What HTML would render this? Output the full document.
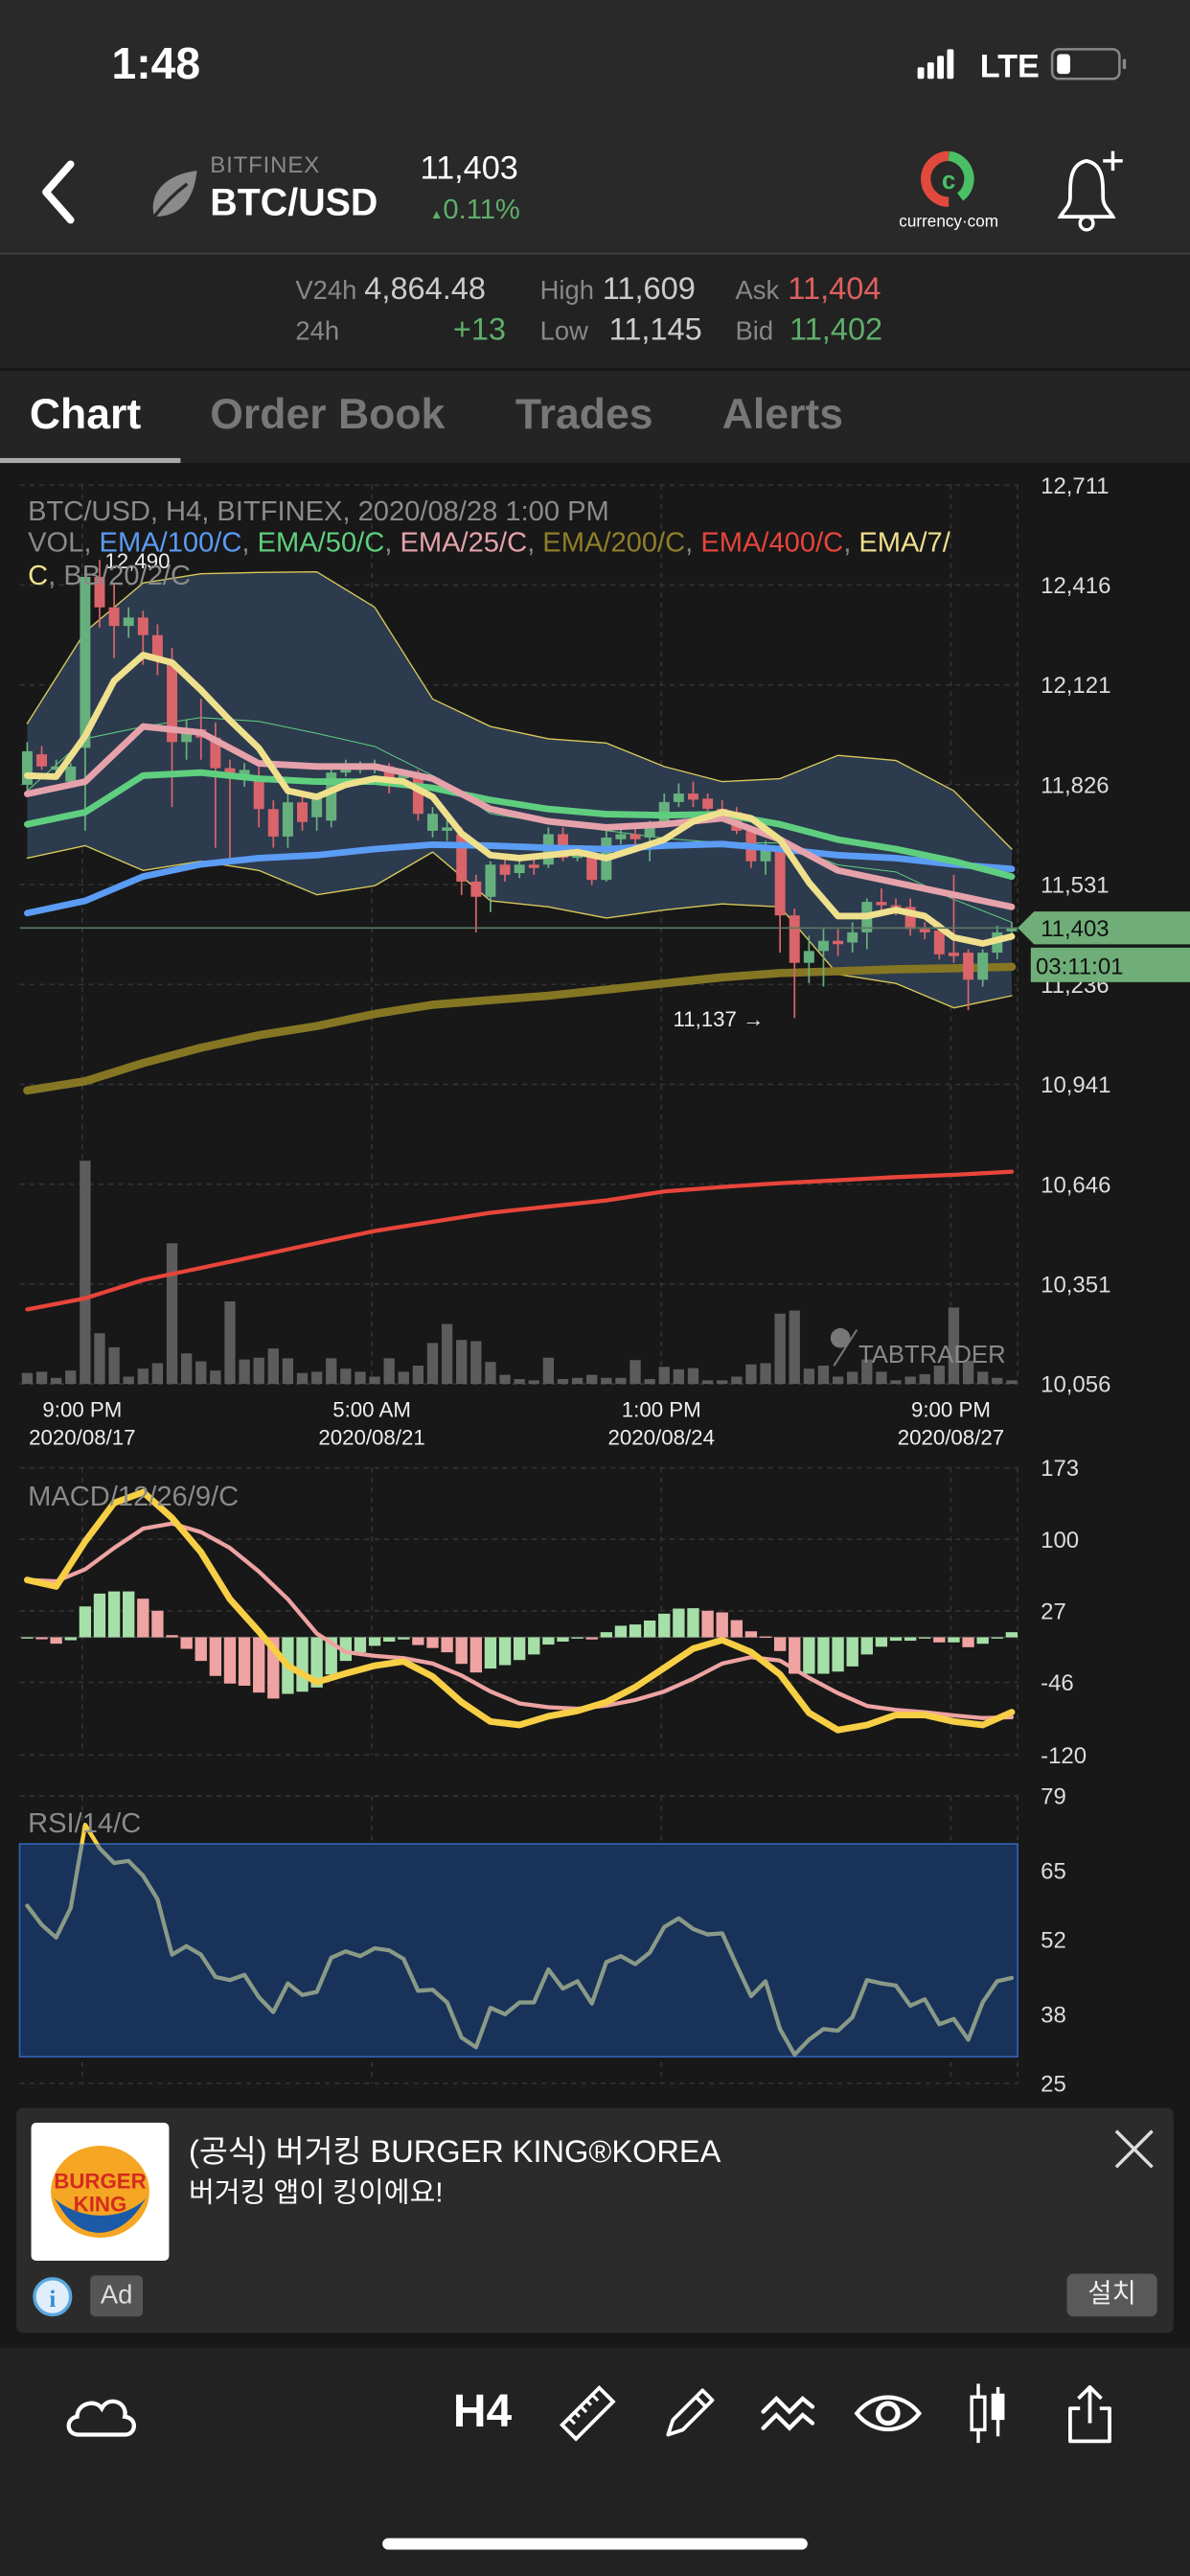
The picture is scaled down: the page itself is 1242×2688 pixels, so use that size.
<!DOCTYPE html>
<html><head><meta charset="utf-8">
<style>
html,body{margin:0;padding:0;background:#181818;width:1242px;height:2688px;overflow:hidden;}
#root{position:absolute;left:0;top:0;width:725px;height:1569px;transform:scale(1.71311);transform-origin:0 0;background:#181818;font-family:"Liberation Sans","Noto Sans CJK KR",sans-serif;color:#fff;}
.abs{position:absolute;white-space:nowrap;}
</style></head><body>
<div id="root">
 <div class="abs" style="left:0;top:0;width:725px;height:154px;background:#292929"></div>
 <div class="abs" style="left:0;top:154px;width:725px;height:1px;background:#444"></div>
 <div class="abs" style="left:0;top:155px;width:725px;height:69px;background:#222"></div>
 <div class="abs" style="left:0;top:226px;width:725px;height:56px;background:#242424"></div>

 <div class="abs" style="left:68px;top:24px;font-size:27px;font-weight:bold">1:48</div>
 <svg class="abs" style="left:555px;top:28px" width="135" height="24">
  <rect x="4" y="13" width="4" height="7" fill="#fff" rx="1"/><rect x="10" y="10" width="4" height="10" fill="#fff" rx="1"/><rect x="16" y="6" width="4" height="14" fill="#fff" rx="1"/><rect x="22" y="2" width="4" height="18" fill="#fff" rx="1"/>
  <text x="42" y="19" font-size="20" font-weight="bold" fill="#fff" font-family="Liberation Sans">LTE</text>
  <rect x="86" y="2" width="41" height="18" rx="4" fill="none" stroke="#888" stroke-width="1.5"/><rect x="89" y="5" width="8" height="12" rx="2" fill="#fff"/><rect x="129" y="8" width="2" height="6" fill="#888"/>
 </svg>

 <svg class="abs" style="left:20px;top:96px" width="30" height="42"><path d="M23 4 L8 21 L23 38" fill="none" stroke="#fff" stroke-width="4.5" stroke-linecap="round" stroke-linejoin="round"/></svg>
 <svg class="abs" style="left:90px;top:102px" width="32" height="34"><path d="M4 30 C0 15 12 4 30 2 C28 20 20 30 4 30 Z" fill="#8a8a8a"/><path d="M4 30 C10 22 16 16 24 10" stroke="#292929" stroke-width="2" fill="none"/></svg>
 <div class="abs" style="left:128px;top:92px;font-size:14px;color:#8a8a8a;letter-spacing:0.5px">BITFINEX</div>
 <div class="abs" style="left:128px;top:110px;font-size:23px;font-weight:bold">BTC/USD</div>
 <div class="abs" style="left:256px;top:92px;font-size:20px">11,403</div>
 <div class="abs" style="left:262px;top:118px;font-size:17px;color:#5fae6b"><span style="font-size:8px">▲</span>0.11%</div>
 <svg class="abs" style="left:545px;top:92px" width="70" height="50">
  <path d="M33 3 A14 14 0 1 0 33 31" fill="none" stroke="#e2493d" stroke-width="6"/><path d="M33 3 A14 14 0 0 1 40 28" fill="none" stroke="#4bbf65" stroke-width="6"/>
  <text x="33" y="23" font-size="15" font-weight="bold" fill="#4bbf65" text-anchor="middle" font-family="Liberation Sans">c</text>
  <text x="33" y="46" font-size="10" fill="#fff" text-anchor="middle" font-family="Liberation Sans">currency·com</text>
 </svg>
 <svg class="abs" style="left:640px;top:90px" width="50" height="52">
  <path d="M22 8 C12 10 12 20 12 30 C12 36 8 38 6 42 L38 42 C36 38 32 36 32 30 C32 20 32 10 22 8 Z" fill="none" stroke="#fff" stroke-width="2.2"/>
  <circle cx="22" cy="46" r="4" fill="none" stroke="#fff" stroke-width="2"/><path d="M38 2 V14 M32 8 H44" stroke="#fff" stroke-width="2"/>
 </svg>

 <div style="font-size:19px">
  <div class="abs" style="left:180px;top:169px;font-size:16px;color:#888">V24h</div>
  <div class="abs" style="left:222px;top:166px;color:#ccc">4,864.48</div>
  <div class="abs" style="left:329px;top:169px;font-size:16px;color:#888">High</div>
  <div class="abs" style="left:367px;top:166px;color:#ccc">11,609</div>
  <div class="abs" style="left:448px;top:169px;font-size:16px;color:#888">Ask</div>
  <div class="abs" style="left:480px;top:166px;color:#e06060">11,404</div>
  <div class="abs" style="left:180px;top:194px;font-size:16px;color:#888">24h</div>
  <div class="abs" style="left:276px;top:191px;color:#5fae6b">+13</div>
  <div class="abs" style="left:329px;top:194px;font-size:16px;color:#888">Low</div>
  <div class="abs" style="left:371px;top:191px;color:#ccc">11,145</div>
  <div class="abs" style="left:448px;top:194px;font-size:16px;color:#888">Bid</div>
  <div class="abs" style="left:481px;top:191px;color:#5fae6b">11,402</div>
 </div>

 <div class="abs" style="left:18px;top:237px;font-size:26px;font-weight:bold">Chart</div>
 <div class="abs" style="left:128px;top:237px;font-size:26px;font-weight:bold;color:#777">Order Book</div>
 <div class="abs" style="left:314px;top:237px;font-size:26px;font-weight:bold;color:#777">Trades</div>
 <div class="abs" style="left:440px;top:237px;font-size:26px;font-weight:bold;color:#777">Alerts</div>
 <div class="abs" style="left:0;top:279px;width:110px;height:3px;background:#aaa"></div>

 <svg id="chart" class="abs" style="left:0;top:0" width="725" height="1290"></svg>

 <div class="abs" style="left:10px;top:1284px;width:705px;height:137px;background:#2b2b2b;border-radius:4px">
  <svg class="abs" style="left:9px;top:9px" width="84" height="84">
   <rect width="84" height="84" fill="#fff" rx="3"/>
   <ellipse cx="42" cy="42" rx="30" ry="28" fill="#f5a623"/>
   <path d="M14 46 C30 60 56 60 70 46 L66 52 C52 72 30 72 18 52 Z" fill="#1c5aa6"/>
   <text x="42" y="40" font-size="13" font-weight="bold" fill="#d52b1e" text-anchor="middle" font-family="Liberation Sans">BURGER</text>
   <text x="42" y="54" font-size="13" font-weight="bold" fill="#d52b1e" text-anchor="middle" font-family="Liberation Sans">KING</text>
  </svg>
  <div class="abs" style="left:105px;top:12px;font-size:19px">(공식) 버거킹 BURGER KING®KOREA</div>
  <div class="abs" style="left:105px;top:37px;font-size:17px">버거킹 앱이 킹이에요!</div>
  <svg class="abs" style="left:668px;top:12px" width="26" height="26"><path d="M2 2 L24 24 M24 2 L2 24" stroke="#ddd" stroke-width="2"/></svg>
  <svg class="abs" style="left:9px;top:102px" width="26" height="26"><circle cx="13" cy="13" r="11" fill="#dfeefa" stroke="#5aa7e0" stroke-width="2"/><text x="13" y="19" font-size="15" fill="#3a8bd0" text-anchor="middle" font-family="Liberation Serif" font-weight="bold">i</text></svg>
  <div class="abs" style="left:45px;top:102px;width:32px;height:25px;background:#555;border-radius:3px;font-size:16px;text-align:center;line-height:25px;color:#ddd">Ad</div>
  <div class="abs" style="left:640px;top:101px;width:55px;height:26px;background:#595959;border-radius:4px;font-size:16px;text-align:center;line-height:26px;color:#eee">설치</div>
 </div>

 <div class="abs" style="left:0;top:1430px;width:725px;height:139px;background:#222"></div>
 <svg class="abs" style="left:38px;top:1455px" width="48" height="32"><path d="M10 28 C2 28 2 18 9 17 C9 9 20 6 24 12 C28 4 40 8 38 17 C46 18 45 28 38 28 Z" fill="none" stroke="#fff" stroke-width="2.5"/></svg>
 <div class="abs" style="left:276px;top:1453px;font-size:28px;font-weight:bold">H4</div>
 <svg class="abs" style="left:340px;top:1452px" width="36" height="36"><g transform="rotate(-45 18 18)"><rect x="2" y="12" width="32" height="12" fill="none" stroke="#fff" stroke-width="2.2"/><path d="M8 12 v5 M13 12 v4 M18 12 v5 M23 12 v4 M28 12 v5" stroke="#fff" stroke-width="1.8"/></g></svg>
 <svg class="abs" style="left:402px;top:1452px" width="36" height="36"><path d="M5 31 L8 22 L26 4 L32 10 L14 28 Z M22 8 L28 14" fill="none" stroke="#fff" stroke-width="2.2" stroke-linejoin="round"/></svg>
 <svg class="abs" style="left:462px;top:1455px" width="36" height="30"><path d="M3 14 L11 6 L19 14 L27 6 L33 11 M3 24 L11 16 L19 24 L27 16 L33 21" fill="none" stroke="#fff" stroke-width="2.5" stroke-linecap="round"/></svg>
 <svg class="abs" style="left:520px;top:1455px" width="42" height="30"><path d="M2 15 C12 2 30 2 40 15 C30 28 12 28 2 15 Z" fill="none" stroke="#fff" stroke-width="2.5"/><circle cx="21" cy="15" r="6" fill="none" stroke="#fff" stroke-width="3"/></svg>
 <svg class="abs" style="left:588px;top:1450px" width="28" height="40"><path d="M8 2 V38 M20 4 V34" stroke="#fff" stroke-width="2"/><rect x="4" y="10" width="8" height="20" fill="#222" stroke="#fff" stroke-width="2"/><rect x="16" y="8" width="8" height="16" fill="#fff"/></svg>
 <svg class="abs" style="left:648px;top:1450px" width="32" height="40"><path d="M16 4 V26 M9 11 L16 4 L23 11 M10 17 H4 V37 H28 V17 H22" fill="none" stroke="#fff" stroke-width="2.2" stroke-linejoin="round"/></svg>
 <div class="abs" style="left:233px;top:1546px;width:259px;height:7px;border-radius:4px;background:#fff"></div>
</div>

<script>
// ---- data ----
const openP =[11826,11916,11870,11835,11935,12440,12350,12295,12320,12268,12187,11952,11990,11965,11875,11850,11846,11754,11673,11774,11730,11720,11862,11870,11870,11880,11845,11850,11690,11690,11680,11540,11495,11590,11565,11590,11590,11680,11610,11620,11545,11665,11680,11670,11710,11775,11800,11785,11755,11745,11690,11600,11640,11440,11300,11335,11365,11360,11390,11480,11470,11465,11400,11395,11330,11330,11250,11330,11393];
const closeP=[11925,11880,11880,11880,12440,12350,12295,12320,12268,12196,11952,11990,11965,11875,11860,11870,11754,11673,11774,11716,11785,11862,11880,11880,11885,11840,11860,11740,11740,11700,11540,11495,11590,11560,11590,11580,11680,11610,11620,11545,11670,11680,11665,11710,11775,11800,11782,11755,11745,11690,11600,11640,11440,11300,11335,11365,11355,11390,11480,11470,11465,11400,11390,11325,11320,11250,11330,11390,11403];
const highP =[11952,11940,11900,11890,12460,12490,12420,12350,12340,12300,12230,12020,12080,12010,11900,11890,11880,11780,11800,11800,11800,11880,11900,11895,11900,11890,11870,11870,11760,11740,11700,11560,11600,11610,11600,11620,11700,11700,11640,11640,11690,11700,11700,11720,11800,11830,11835,11800,11780,11760,11700,11660,11660,11460,11380,11400,11400,11420,11490,11520,11490,11490,11420,11420,11560,11340,11340,11410,11420];
const lowP  =[11808,11870,11860,11820,11690,12290,12200,12260,12180,12150,11760,11900,11900,11640,11600,11820,11700,11640,11640,11690,11690,11700,11850,11860,11860,11800,11830,11720,11670,11660,11500,11390,11450,11540,11550,11560,11580,11600,11600,11530,11540,11650,11640,11600,11700,11760,11760,11730,11720,11680,11580,11560,11330,11137,11240,11230,11320,11330,11340,11440,11440,11380,11370,11310,11300,11160,11230,11310,11380];
const volume=[18,20,10,22,365,83,60,12,25,34,230,50,37,22,135,40,43,58,42,18,20,42,25,20,12,42,20,30,67,98,72,70,36,15,8,6,43,8,10,15,10,10,39,8,28,24,26,6,6,12,32,34,115,120,25,30,12,20,40,20,6,12,16,30,125,38,20,10,6];
// slow lines sampled every 4 candles
const slowIdx=[0,4,8,12,16,20,24,28,32,36,40,44,48,52,56,60,64,68];
const ema100=[11447,11483,11555,11591,11609,11618,11636,11649,11646,11640,11636,11646,11651,11636,11618,11609,11591,11577];
const ema50 =[11709,11745,11853,11862,11844,11835,11835,11817,11781,11754,11739,11736,11739,11709,11664,11636,11600,11555];
const ema25 =[11799,11835,11998,11980,11889,11880,11880,11844,11754,11718,11700,11709,11727,11664,11573,11537,11501,11465];
const ema200=[10923,10950,11004,11049,11086,11113,11149,11176,11190,11203,11221,11239,11257,11270,11275,11281,11284,11288];
const ema400=[10276,10309,10363,10399,10435,10472,10508,10535,10562,10580,10598,10625,10638,10649,10658,10667,10674,10683];
const bbUpper=[12007,12278,12422,12449,12453,12455,12350,12079,11998,11962,11949,11880,11835,11844,11913,11898,11808,11636];
const bbLower=[11609,11646,11573,11600,11573,11501,11528,11627,11483,11465,11432,11456,11474,11465,11266,11239,11167,11203];
// every 2 candles
const fastIdx=[0,2,4,6,8,10,12,14,16,18,20,22,24,26,28,30,32,34,36,38,40,42,44,46,48,50,52,54,56,58,60,62,64,66,68];
const ema7=[11853,11850,11970,12133,12209,12187,12106,12016,11934,11808,11790,11826,11844,11835,11790,11682,11618,11609,11618,11627,11609,11636,11664,11718,11745,11727,11664,11537,11438,11438,11456,11438,11375,11357,11378];
const macdLine=[58.4,51.9,97.8,137.1,148.1,121.8,86.9,38.8,6.0,-29.0,-45.7,-36.9,-29.0,-24.7,-40.0,-66.2,-85.9,-89.4,-80.6,-75.0,-66.2,-50.9,-31.2,-11.5,-2.8,-15.0,-37.8,-77.1,-94.6,-89.4,-79.3,-79.3,-85.9,-89.4,-76.3];
const signalLine=[58.4,57.1,69.4,91.2,110.9,116.1,107.4,91.2,67.2,38.8,3.8,-15.0,-19.0,-21.2,-26.8,-39.1,-55.3,-67.5,-71.4,-72.8,-69.7,-64.0,-55.3,-42.2,-26.8,-20.3,-23.8,-41.3,-57.0,-70.1,-74.1,-76.3,-79.8,-82.4,-81.5];
const macdHist=[0,-2,-6.5,-3,31.5,44.6,46.8,46.8,39.4,27.1,2.2,-11.8,-24.1,-39.4,-47.2,-49.4,-56.4,-62.5,-57.7,-55.5,-51.2,-38.0,-24.1,-15.3,-8.7,-4.4,-2.2,-7.9,-10.9,-15.3,-27.1,-35.9,-31.9,-28.4,-23.2,-17.5,-7.4,-4.4,-0.4,-2.2,5.2,11.8,13.1,17.1,24.1,29.3,29.7,27.1,25.4,17.5,6.1,0.9,-14.0,-37.2,-37.2,-37.2,-35.0,-29.7,-17.5,-9.6,-3.5,-3.5,-1.3,-5.2,-5.2,-10.1,-6.6,-0.4,5.2];
const rsi=[58.4,54.8,52.4,58.0,73.6,69.2,66.4,66.8,64.0,59.6,49.2,50.8,49.2,45.0,44.4,45.4,41.2,38.4,43.8,41.6,42.2,48.6,49.8,48.9,50.4,50.0,48.4,42.4,42.6,40.2,33.6,31.8,39.2,38.0,40.2,40.2,46.4,42.8,44.2,40.0,47.8,48.9,47.4,49.6,54.4,56.0,54.0,53.0,53.2,47.2,41.4,44.2,35.2,30.4,33.2,35.2,34.9,37.4,44.4,43.8,43.4,39.6,40.8,36.1,37.1,33.2,40.2,44.2,44.8];
const priceTicks=[12711,12416,12121,11826,11531,11236,10941,10646,10351,10056];
const macdTicks=[173,100,27,-46,-120];
const rsiTicks=[79,65,52,38,25];
const timeLabels=[["9:00 PM","2020/08/17",3.8],["5:00 AM","2020/08/21",23.8],["1:00 PM","2020/08/24",43.8],["9:00 PM","2020/08/27",63.8]];
const lastPrice=11403, highMark=12490, lowMark=11137;

// ---- axes ----
const NS="http://www.w3.org/2000/svg";
const svg=document.getElementById('chart');
const X0=16.6, DX=8.82, PL=12, PR=620;
const xOf=i=>X0+DX*i;
const yP=p=>295.5+(12711-p)*547.5/2655;
const yM=v=>997.3-v*0.597;
const yR=v=>1094+(79-v)*175/54;
const yVol0=843, volPx=136/365;
function el(tag,attrs,parent){const e=document.createElementNS(NS,tag);for(const k in attrs)e.setAttribute(k,attrs[k]);(parent||svg).appendChild(e);return e;}
function txt(x,y,s,attrs){const t=el('text',Object.assign({x:x,y:y,'font-family':'Liberation Sans, sans-serif'},attrs));t.textContent=s;return t;}
function line(xs,ys,attrs){return el('polyline',Object.assign({points:xs.map((x,k)=>x.toFixed(1)+','+ys[k].toFixed(1)).join(' '),fill:'none','stroke-linejoin':'round','stroke-linecap':'round'},attrs));}

el('rect',{x:0,y:283,width:725,height:1001,fill:'#181818'});
// grids
const grid=el('g',{stroke:'#333','stroke-width':1,'stroke-dasharray':'3,3'});


priceTicks.forEach(p=>el('line',{x1:PL,x2:PR,y1:yP(p),y2:yP(p)},grid));
macdTicks.forEach(v=>el('line',{x1:PL,x2:PR,y1:yM(v),y2:yM(v)},grid));
rsiTicks.forEach(v=>el('line',{x1:PL,x2:PR,y1:yR(v),y2:yR(v)},grid));
[[295,843],[894,1069],[1094,1269]].forEach(r=>{timeLabels.forEach(t=>el('line',{x1:xOf(t[2]),x2:xOf(t[2]),y1:r[0],y2:r[1]},grid));el('line',{x1:PR,x2:PR,y1:r[0],y2:r[1]},grid);});

// tick labels
priceTicks.forEach(p=>{const t=txt(634,yP(p)+5,p.toLocaleString('en-US'),{'font-size':14,fill:'#ddd'});

});
macdTicks.forEach(v=>{const t=txt(634,yM(v)+5,String(v),{'font-size':14,fill:'#ddd'});

});
rsiTicks.forEach(v=>{const t=txt(634,yR(v)+5,String(v),{'font-size':14,fill:'#ddd'});

});
timeLabels.forEach(t=>{const a=txt(xOf(t[2]),863,t[0],{'font-size':13,fill:'#eee','text-anchor':'middle'});


const b=txt(xOf(t[2]),880,t[1],{'font-size':13,fill:'#eee','text-anchor':'middle'});

});

// Bollinger band
const bx=slowIdx.map(xOf);
const bbPts=bx.map((x,k)=>x+','+yP(bbUpper[k])).concat(bx.slice().reverse().map((x,k)=>x+','+yP(bbLower[bbLower.length-1-k])));
const bb=el('polygon',{points:bbPts.join(' '),fill:'#2d3b4e',stroke:'none'});


line(bx,bbUpper.map(yP),{stroke:'#d8c95a','stroke-width':0.8});
line(bx,bbLower.map(yP),{stroke:'#d8c95a','stroke-width':0.8});
line(bx,bbUpper.map((u,k)=>yP((u+bbLower[k])/2)),{stroke:'#5fcf7f','stroke-width':0.6});

// volume
volume.forEach((v,i)=>{const r=el('rect',{x:xOf(i)-3.3,y:yVol0-v*volPx,width:6.6,height:v*volPx,fill:'#5c5c5c'});

});

// EMA400, EMA200
let l=line(bx,ema400.map(yP),{stroke:'#e8453a','stroke-width':2.5});


l=line(bx,ema200.map(yP),{stroke:'#857624','stroke-width':5});



// candles
openP.forEach((o,i)=>{const c=closeP[i];const up=c>=o;const col=up?'#66b07e':'#d9646a';
const g=el('g',{});


el('line',{x1:xOf(i),x2:xOf(i),y1:yP(highP[i]),y2:yP(lowP[i]),stroke:col,'stroke-width':1},g);
const top=yP(Math.max(o,c)),bot=yP(Math.min(o,c));
el('rect',{x:xOf(i)-3.2,y:top,width:6.4,height:Math.max(1,bot-top),fill:col},g);});

// EMAs
l=line(bx,ema100.map(yP),{stroke:'#5b9cf5','stroke-width':4});


l=line(bx,ema50.map(yP),{stroke:'#5fcf7f','stroke-width':4});


l=line(bx,ema25.map(yP),{stroke:'#e6a2aa','stroke-width':4});


const fx=fastIdx.map(xOf);
l=line(fx,ema7.map(yP),{stroke:'#efe08e','stroke-width':4});



// last price line & labels
const yl=yP(lastPrice);
el('line',{x1:PL,x2:PR,y1:yl,y2:yl,stroke:'#5e7a62','stroke-width':1});
const pl=el('polygon',{points:`620,${yl} 630,${yl-10} 725,${yl-10} 725,${yl+10} 630,${yl+10}`,fill:'#6fae78'});


txt(634,yl+5,lastPrice.toLocaleString('en-US'),{'font-size':14,fill:'#111'});
el('rect',{x:628,y:yl+12,width:97,height:21,fill:'#6fae78'});
txt(631,yl+28,'03:11:01',{'font-size':14,fill:'#111'});
let t=txt(xOf(4)+12,yP(highMark)+5,highMark.toLocaleString('en-US'),{'font-size':13,fill:'#eee'});


t=txt(xOf(53)-74,yP(lowMark)+5,lowMark.toLocaleString('en-US')+'   →',{'font-size':13,fill:'#eee'});



// legend
const lg=txt(17,317,'BTC/USD, H4, BITFINEX, 2020/08/28 1:00 PM',{'font-size':17,fill:'#8a8a8a'});


const leg=el('text',{x:17,y:336,'font-size':17,'font-family':'Liberation Sans, sans-serif'});


[['VOL, ','#8a8a8a'],['EMA/100/C','#5b9cf5'],[', ','#8a8a8a'],['EMA/50/C','#5fcf7f'],[', ','#8a8a8a'],['EMA/25/C','#e6a2aa'],[', ','#8a8a8a'],['EMA/200/C','#8f7f2a'],[', ','#8a8a8a'],['EMA/400/C','#e8453a'],[', ','#8a8a8a'],['EMA/7/','#efe08e']].forEach(s=>{const sp=el('tspan',{fill:s[1]},leg);sp.textContent=s[0];});
const leg2=el('text',{x:17,y:356,'font-size':17,'font-family':'Liberation Sans, sans-serif'},svg);
[['C','#efe08e'],[', BB/20/2/C','#8a8a8a']].forEach(s=>{const sp=el('tspan',{fill:s[1]},leg2);sp.textContent=s[0];});
t=txt(523,830,'TABTRADER',{'font-size':15,fill:'#888'});


el('circle',{cx:512,cy:815,r:6,fill:'#777'});
el('line',{x1:508,y1:832,x2:522,y2:810,stroke:'#777','stroke-width':1.2});

// MACD
el('line',{x1:PL,x2:PR,y1:yM(0),y2:yM(0),stroke:'#444','stroke-width':0.8});
macdHist.forEach((h,i)=>{const rising=i===0?true:h>=macdHist[i-1];
const r=el('rect',{x:xOf(i)-3.6,y:Math.min(yM(0),yM(h)),width:7.2,height:Math.max(0.8,Math.abs(yM(h)-yM(0))),fill:rising?'#a6e0a8':'#f0a3a3'});

});
l=line(fx,signalLine.map(yM),{stroke:'#eea3a3','stroke-width':2.5});


l=line(fx,macdLine.map(yM),{stroke:'#f7cf45','stroke-width':4});


t=txt(17,917,'MACD/12/26/9/C',{'font-size':17,fill:'#8a8a8a'});



// RSI
const band=el('rect',{x:PL,y:yR(70),width:PR-PL,height:yR(30)-yR(70),fill:'#19325a',stroke:'#3261b0','stroke-width':1});


const clip=el('clipPath',{id:'over70'});el('rect',{x:0,y:0,width:725,height:yR(70)},clip);
const rx=rsi.map((v,i)=>xOf(i)), ry=rsi.map(yR);
l=line(rx,ry,{stroke:'#8a9a87','stroke-width':2.5});


line(rx,ry,{stroke:'#f7cf45','stroke-width':2.5,'clip-path':'url(#over70)'});
t=txt(17,1116,'RSI/14/C',{'font-size':17,fill:'#8a8a8a'});


</script>
</body></html>
